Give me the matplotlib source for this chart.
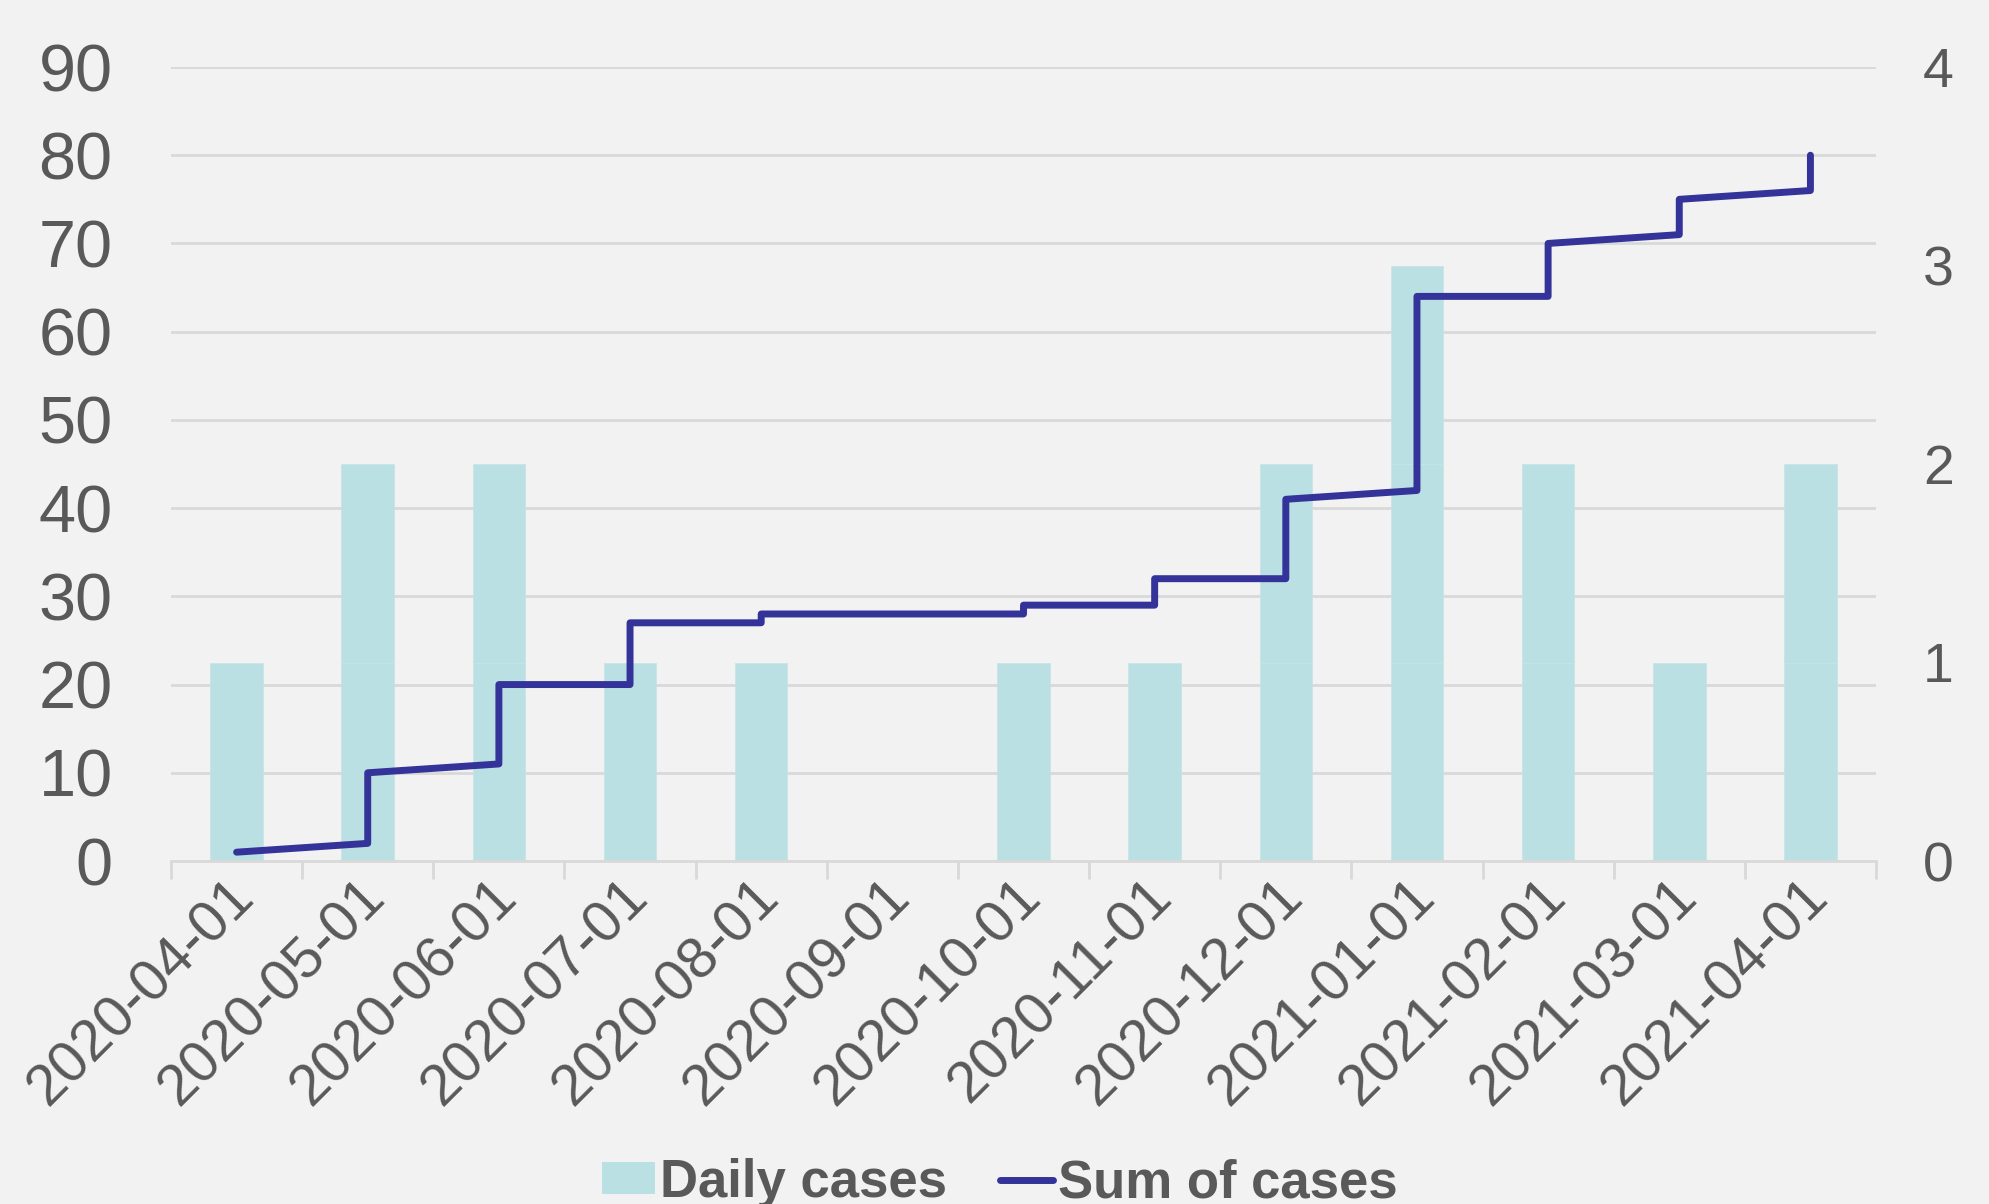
import matplotlib
matplotlib.use("Agg")
import matplotlib.pyplot as plt
import matplotlib.transforms as mtransforms
from matplotlib.patches import Patch
from matplotlib.lines import Line2D

plt.rcParams['font.family'] = ['Liberation Sans', 'DejaVu Sans']

# Data
months = ['2020-04-01', '2020-05-01', '2020-06-01', '2020-07-01', '2020-08-01',
          '2020-09-01', '2020-10-01', '2020-11-01', '2020-12-01', '2021-01-01',
          '2021-02-01', '2021-03-01', '2021-04-01']
daily_cases = [1, 2, 2, 1, 1, 0, 1, 1, 2, 3, 2, 1, 2]

# cumulative line: category index and value (two values where it steps)
sum_idx = [0, 1, 1, 2, 2, 3, 3, 4, 4, 5, 6, 6, 7, 7, 8, 8, 9, 9, 10, 10, 11, 11, 12, 12]
sum_vals = [1, 2, 10, 11, 20, 20, 27, 27, 28, 28, 28, 29, 29, 32, 32, 41, 42, 64, 64, 70, 71, 75, 76, 80]

left_ticks = list(range(0, 91, 10))
right_ticks = [0, 1, 2, 3, 4]

bg = '#f2f2f2'
bar_color = '#bbe0e3'
line_color = '#333399'
text_color = '#595959'
grid_color = '#d9d9d9'

W, H = 1990, 1204
fig = plt.figure(figsize=(W / 100, H / 100), dpi=100, facecolor=bg)
ax = fig.add_axes([171 / W, 1 - 861 / H, 1705 / W, (861 - 67) / H])
ax.set_facecolor(bg)

# bars on the right-hand scale, stacked one unit at a time
x = list(range(len(months)))
for level in range(max(daily_cases)):
    xs = [i for i, d in zip(x, daily_cases) if d > level]
    ax.bar(xs, [1] * len(xs), bottom=level, width=0.4, color=bar_color,
           edgecolor='#c4e4e6', linewidth=0.5, zorder=2)
ax.set_xlim(-0.5, len(months) - 0.5)
ax.set_ylim(0, 4)

# gridlines follow the left scale (0-90 <-> 0-4), behind the bars
ratio = left_ticks[-1] / right_ticks[-1]
for t in left_ticks[1:]:
    ax.axhline(t / ratio, color=grid_color, linewidth=2, zorder=0)

for s in ['top', 'left', 'right']:
    ax.spines[s].set_visible(False)
ax.spines['bottom'].set_color(grid_color)
ax.spines['bottom'].set_linewidth(2)

# category axis: ticks at boundaries, labels centred
ax.set_xticks([i - 0.5 for i in range(len(months) + 1)])
ax.set_xticklabels([])
ax.tick_params(axis='x', length=13, width=2, color=grid_color)
ax.set_xticks(x, minor=True)
ax.set_xticklabels(months, minor=True, rotation=45, ha='right', va='top',
                   rotation_mode='anchor', fontsize=41.5, color=text_color)
ax.tick_params(axis='x', which='minor', length=0, pad=6)
offset = mtransforms.ScaledTranslation(-10 / 100, 0, fig.dpi_scale_trans)
for lab in ax.xaxis.get_minorticklabels():
    lab.set_transform(lab.get_transform() + offset)

# line on the left-hand scale
ax2 = ax.twinx()
ax2.plot(sum_idx, sum_vals, color=line_color, linewidth=5,
         solid_joinstyle='round', solid_capstyle='round', zorder=3)
ax2.set_ylim(0, 90)
ax2.yaxis.tick_left()
ax2.set_yticks(left_ticks)
ax2.tick_params(axis='y', length=0, labelsize=48, labelcolor=text_color, pad=42)
for s in ax2.spines.values():
    s.set_visible(False)

# twinx moved the bar axis ticks to the left; put them back on the right
ax.yaxis.tick_right()
ax.set_yticks(right_ticks)
ax.tick_params(axis='y', which='both', length=0, labelsize=40,
               labelcolor=text_color, pad=34)

handles = [Patch(facecolor=bar_color, edgecolor='none'),
           Line2D([0], [0], color=line_color, linewidth=5, solid_capstyle='round')]
fig.legend(handles, ['Daily cases', 'Sum of cases'], loc='center',
           bbox_to_anchor=(1000 / W, 1 - 1183 / H), ncol=2, frameon=False,
           prop={'size': 38, 'weight': 'bold'}, labelcolor=text_color,
           handlelength=1.0, handleheight=0.55, handletextpad=0.1,
           columnspacing=1.0)

fig.savefig('out.png', dpi=100, facecolor=bg)
